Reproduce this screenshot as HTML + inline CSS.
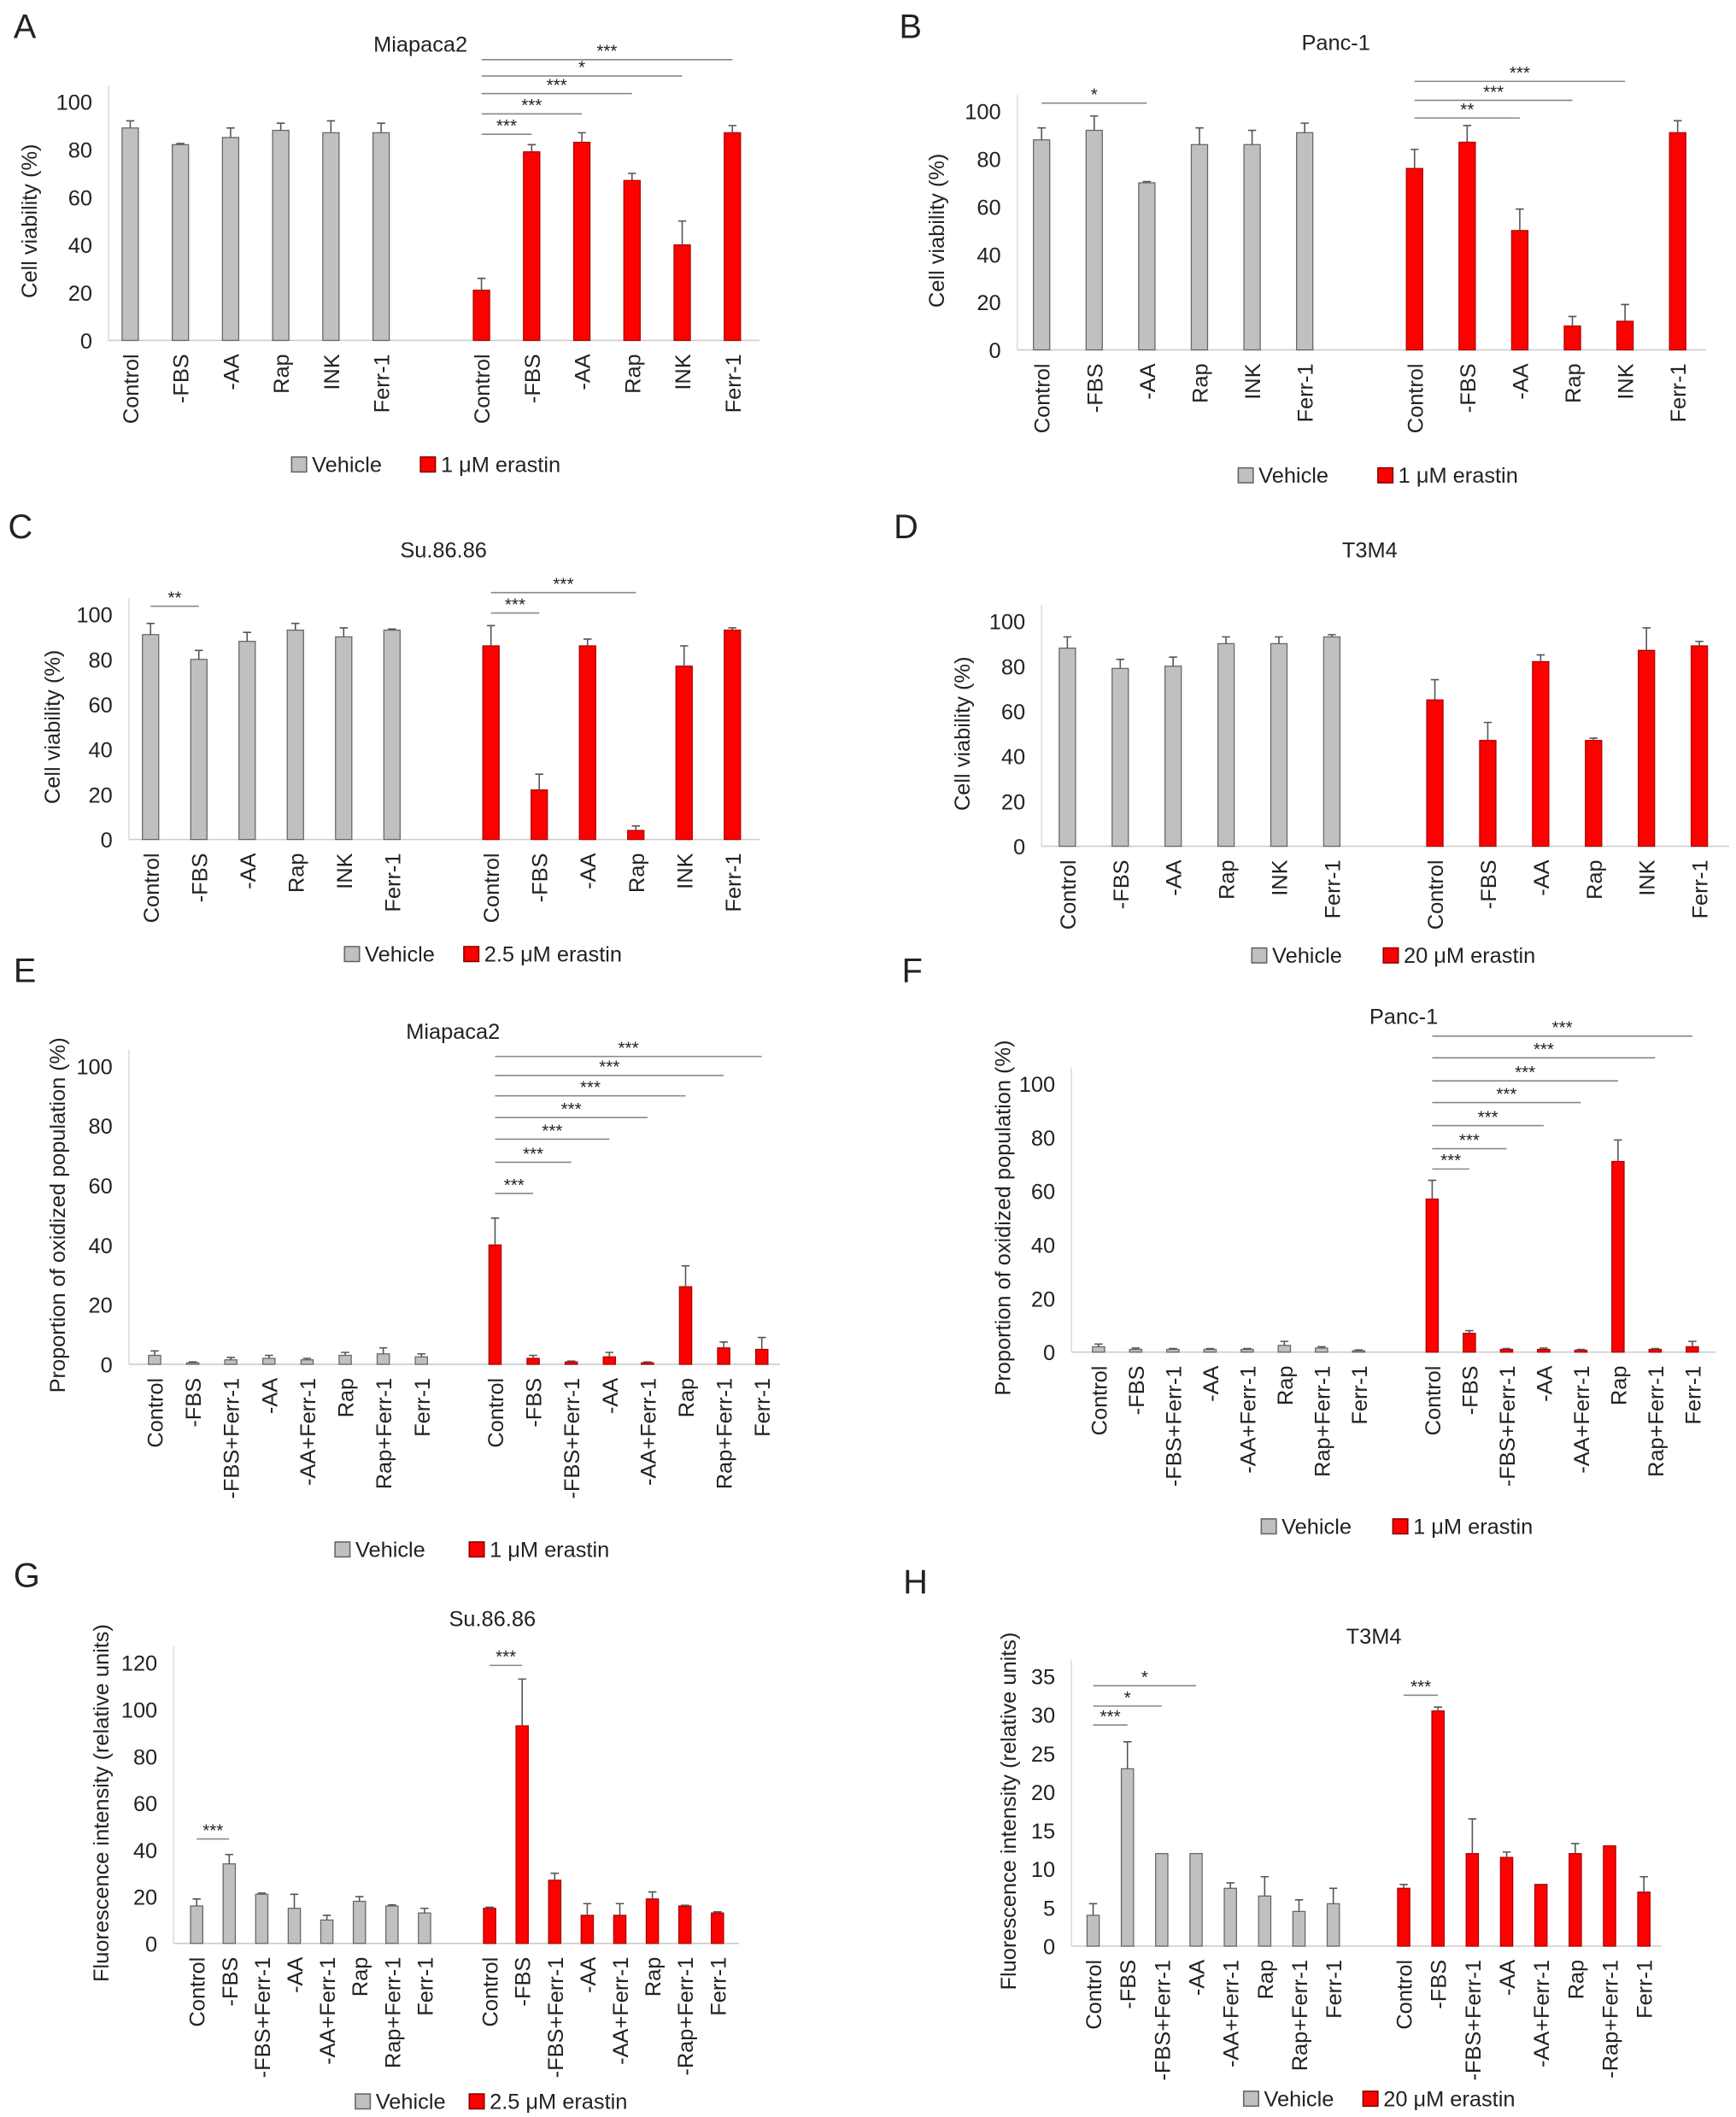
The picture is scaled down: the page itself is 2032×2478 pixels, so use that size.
<!DOCTYPE html>
<html><head><meta charset="utf-8"><style>
html,body{margin:0;padding:0;background:#fff}
svg{display:block}
text{font-family:"Liberation Sans",Arial,sans-serif;fill:#222}
</style></head><body>
<svg id="fig" xmlns="http://www.w3.org/2000/svg" width="2032" height="2478" viewBox="0 0 1280 1561"></svg>
<script>
// ---- Data ----
const catsA = ["Control","-FBS","-AA","Rap","INK","Ferr-1"];
const aVeh = [89,82,85,88,87,87];
const aVehErr = [3,0.5,4,3,5,4];
const aEra = [21,79,83,67,40,87];
const aEraErr = [5,3,4,3,10,3];
const bVeh = [88,92,70,86,86,91];
const bVehErr = [5,6,0.5,7,6,4];
const bEra = [76,87,50,10,12,91];
const bEraErr = [8,7,9,4,7,5];
const cVeh = [91,80,88,93,90,93];
const cVehErr = [5,4,4,3,4,0.5];
const cEra = [86,22,86,4,77,93];
const cEraErr = [9,7,3,2,9,1];
const dVeh = [88,79,80,90,90,93];
const dVehErr = [5,4,4,3,3,1];
const dEra = [65,47,82,47,87,89];
const dEraErr = [9,8,3,1,10,2];
const catsEF = ["Control","-FBS","-FBS+Ferr-1","-AA","-AA+Ferr-1","Rap","Rap+Ferr-1","Ferr-1"];
const eVeh = [3,0.5,1.5,2,1.5,3,3.5,2.5];
const eVehErr = [1.5,0.3,0.8,1,0.5,1,2,1];
const eEra = [40,2,0.8,2.5,0.5,26,5.5,5];
const eEraErr = [9,1,0.3,1.5,0.3,7,2,4];
const fVeh = [2,1,1,1,1,2.5,1.5,0.5];
const fVehErr = [1,0.5,0.3,0.3,0.3,1.5,0.5,0.3];
const fEra = [57,7,1,1,0.7,71,1,2];
const fEraErr = [7,1,0.3,0.5,0.3,8,0.3,2];
const catsG = ["Control","-FBS","-FBS+Ferr-1","-AA","-AA+Ferr-1","Rap","Rap+Ferr-1","Ferr-1"];
const catsGR = ["Control","-FBS","-FBS+Ferr-1","-AA","-AA+Ferr-1","Rap","-Rap+Ferr-1","Ferr-1"];
const gVeh = [16,34,21,15,10,18,16,13];
const gVehErr = [3,4,0.5,6,2,2,0.5,2];
const gEra = [15,93,27,12,12,19,16,13];
const gEraErr = [0.5,20,3,5,5,3,0.3,0.5];
const hVeh = [4,23,12,12,7.5,6.5,4.5,5.5];
const hVehErr = [1.5,3.5,0,0,0.7,2.5,1.5,2];
const hEra = [7.5,30.5,12,11.5,8,12,13,7];
const hEraErr = [0.5,0.5,4.5,0.7,0,1.3,0,2];
const ticksViab = [0,20,40,60,80,100];
const ticksOx = [0,20,40,60,80,100];
const ticksG = [0,20,40,60,80,100,120];
const ticksH = [0,5,10,15,20,25,30,35];

const NS="http://www.w3.org/2000/svg";
const svg=document.getElementById('fig');
function mk(tag,attrs,parent){const e=document.createElementNS(NS,tag);for(const k in attrs)e.setAttribute(k,attrs[k]);(parent||svg).appendChild(e);return e;}

function panel(p){
  const g=mk('g',{});
  
  
  const L=mk('text',{x:p.lx,y:p.ly,'font-size':25},g);L.textContent=p.letter;
  
  
  const T=mk('text',{x:p.tx,y:p.ty,'font-size':16,'text-anchor':'middle'},g);T.textContent=p.title;
  
  
  const y=v=>p.y0-(v-0)*(p.y0-p.yTop)/p.yMax;
  // axes
  const ax=mk('line',{x1:p.ax,x2:p.ax,y1:y(p.yMax)-12,y2:p.y0,stroke:'#ddd','stroke-width':1},g);
  
  
  const bl=mk('line',{x1:p.ax,x2:p.axR,y1:p.y0,y2:p.y0,stroke:'#ccc','stroke-width':1},g);
  
  
  p.ticks.forEach(t=>{const e=mk('text',{x:p.ax-12,y:y(t)+6,'font-size':16,'text-anchor':'end'},g);e.textContent=t;
    
    });
  const yl=mk('text',{x:0,y:0,'font-size':16,'text-anchor':'middle',transform:`translate(${p.ylx},${(p.y0+y(p.yMax))/2}) rotate(-90)`},g);
  yl.textContent=p.ylabel;
  
  
  const groups=[[p.veh,p.vehErr,p.gx0,'#c0c0c0','#666',p.cats],[p.era,p.eraErr,p.rx0,'#ff0000','#a00',p.cats2||p.cats]];
  groups.forEach((gr,gi)=>{
    gr[0].forEach((v,i)=>{
      const cx=gr[2]+i*p.step;
      const r=mk('rect',{x:cx-p.bw/2,y:y(v),width:p.bw,height:p.y0-y(v),fill:gr[3],stroke:gr[4],'stroke-width':0.8},g);
      
      
      const e=gr[1][i];
      if(e>0.2){
        const eb=mk('path',{d:`M${cx} ${y(v)}V${y(v+e)}M${cx-3} ${y(v+e)}H${cx+3}`,stroke:'#555','stroke-width':1,fill:'none'},g);
        
        
      }
      const lab=mk('text',{x:0,y:0,'font-size':16,'text-anchor':'end',transform:`translate(${cx+6},${p.y0+10}) rotate(-90)`},g);
      lab.textContent=gr[5][i];
      
      
    });
  });
  (p.sig||[]).forEach(s=>{
    const x0=(s[0]?p.rx0:p.gx0)+s[1]*p.step, x1=(s[0]?p.rx0:p.gx0)+s[2]*p.step;
    const l=mk('line',{x1:x0,x2:x1,y1:s[3],y2:s[3],stroke:'#888','stroke-width':1},g);
    
    
    const st=mk('text',{x:(x0+x1)/2,y:s[3]-2,'font-size':13,'text-anchor':'middle'},g);st.textContent=s[4];
    
    
  });
  // legend
  const lg=mk('g',{},g);
  
  
  mk('rect',{x:p.legx,y:p.legy-11,width:11,height:11,fill:'#c0c0c0',stroke:'#666'},lg);
  const t1=mk('text',{x:p.legx+15,y:p.legy,'font-size':16},lg);t1.textContent='Vehicle';
  
  
  mk('rect',{x:p.legx2,y:p.legy-11,width:11,height:11,fill:'#ff0000',stroke:'#800'},lg);
  const t2=mk('text',{x:p.legx2+15,y:p.legy,'font-size':16},lg);t2.textContent=p.eraLabel;
  
  
}
const VIAB="Cell viability (%)", OX="Proportion of oxidized population (%)", FL="Fluorescence intensity (relative units)";
panel({letter:'A',lx:10,ly:28,title:'Miapaca2',tx:310,ty:38,y0:251,yTop:75,yMax:100,ticks:ticksViab,ax:80,axR:560,ylx:27,ylabel:VIAB,
 cats:catsA,veh:aVeh,vehErr:aVehErr,era:aEra,eraErr:aEraErr,gx0:96,rx0:355,step:37,bw:12,
 sig:[[1,0,1,99,'***'],[1,0,2,84,'***'],[1,0,3,69,'***'],[1,0,4,56,'*'],[1,0,5,44,'***']],
 legx:215,legx2:310,legy:348,eraLabel:'1 μM erastin'});
panel({letter:'B',lx:663,ly:28,title:'Panc-1',tx:985,ty:37,y0:258,yTop:82,yMax:100,ticks:ticksViab,ax:750,axR:1258,ylx:696,ylabel:VIAB,
 cats:catsA,veh:bVeh,vehErr:bVehErr,era:bEra,eraErr:bEraErr,gx0:768,rx0:1043,step:38.8,bw:12,
 sig:[[0,0,2,76,'*'],[1,0,2,87,'**'],[1,0,3,74,'***'],[1,0,4,60,'***']],
 legx:913,legx2:1016,legy:356,eraLabel:'1 μM erastin'});
panel({letter:'C',lx:6,ly:397,title:'Su.86.86',tx:327,ty:411,y0:619,yTop:453,yMax:100,ticks:ticksViab,ax:95,axR:560,ylx:44,ylabel:VIAB,
 cats:catsA,veh:cVeh,vehErr:cVehErr,era:cEra,eraErr:cEraErr,gx0:111,rx0:362,step:35.6,bw:12,
 sig:[[0,0,1,447,'**'],[1,0,1,452,'***'],[1,0,3,437,'***']],
 legx:254,legx2:342,legy:709,eraLabel:'2.5 μM erastin'});
panel({letter:'D',lx:659,ly:397,title:'T3M4',tx:1010,ty:411,y0:624,yTop:458,yMax:100,ticks:ticksViab,ax:768,axR:1275,ylx:715,ylabel:VIAB,
 cats:catsA,veh:dVeh,vehErr:dVehErr,era:dEra,eraErr:dEraErr,gx0:787,rx0:1058,step:39,bw:12,
 sig:[],legx:923,legx2:1020,legy:710,eraLabel:'20 μM erastin'});
panel({letter:'E',lx:10,ly:724,title:'Miapaca2',tx:334,ty:766,y0:1006,yTop:786,yMax:100,ticks:ticksOx,ax:95,axR:575,ylx:48,ylabel:OX,
 cats:catsEF,veh:eVeh,vehErr:eVehErr,era:eEra,eraErr:eEraErr,gx0:114,rx0:365,step:28.1,bw:9,
 sig:[[1,0,1,880,'***'],[1,0,2,857,'***'],[1,0,3,840,'***'],[1,0,4,824,'***'],[1,0,5,808,'***'],[1,0,6,793,'***'],[1,0,7,779,'***']],
 legx:247,legx2:346,legy:1148,eraLabel:'1 μM erastin'});
panel({letter:'F',lx:665,ly:724,title:'Panc-1',tx:1035,ty:755,y0:997,yTop:799,yMax:100,ticks:ticksOx,ax:790,axR:1265,ylx:745,ylabel:OX,
 cats:catsEF,veh:fVeh,vehErr:fVehErr,era:fEra,eraErr:fEraErr,gx0:810,rx0:1056,step:27.4,bw:9,
 sig:[[1,0,1,862,'***'],[1,0,2,847,'***'],[1,0,3,830,'***'],[1,0,4,813,'***'],[1,0,5,797,'***'],[1,0,6,780,'***'],[1,0,7,764,'***']],
 legx:930,legx2:1027,legy:1131,eraLabel:'1 μM erastin'});
panel({letter:'G',lx:10,ly:1170,title:'Su.86.86',tx:363,ty:1199,y0:1433,yTop:1226,yMax:120,ticks:ticksG,ax:128,axR:545,ylx:80,ylabel:FL,
 cats:catsG,cats2:catsGR,veh:gVeh,vehErr:gVehErr,era:gEra,eraErr:gEraErr,gx0:145,rx0:361,step:24,bw:9,
 sig:[[0,0,1,1356,'***'],[1,0,1,1228,'***']],
 legx:262,legx2:346,legy:1555,eraLabel:'2.5 μM erastin'});
panel({letter:'H',lx:666,ly:1175,title:'T3M4',tx:1013,ty:1212,y0:1435,yTop:1236,yMax:35,ticks:ticksH,ax:790,axR:1225,ylx:749,ylabel:FL,
 cats:catsG,cats2:catsGR,veh:hVeh,vehErr:hVehErr,era:hEra,eraErr:hEraErr,gx0:806,rx0:1035,step:25.3,bw:9,
 sig:[[0,0,1,1272,'***'],[0,0,2,1258,'*'],[0,0,3,1243,'*'],[1,0,1,1250,'***']],
 legx:917,legx2:1005,legy:1553,eraLabel:'20 μM erastin'});
</script>
</body></html>
